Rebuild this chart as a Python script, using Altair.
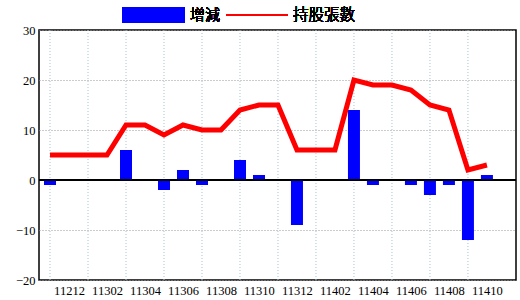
import altair as alt
import pandas as pd

months = ["11211", "11212", "11301", "11302", "11303", "11304", "11305", "11306",
          "11307", "11308", "11309", "11310", "11311", "11312", "11401", "11402",
          "11403", "11404", "11405", "11406", "11407", "11408", "11409", "11410"]
change = [-1, 0, 0, 0, 6, 0, -2, 2, -1, 0, 4, 1, 0, -9, 0, 0, 14, -1, 0, -1, -3, -1, -12, 1]
holding = [5, 5, 5, 5, 11, 11, 9, 11, 10, 10, 14, 15, 15, 6, 6, 6, 20, 19, 19, 18, 15, 14, 2, 3]
y_ticks = [-20, -10, 0, 10, 20, 30]
label_idx = list(range(1, 24, 2))
grid_idx = list(range(0, 24, 2))

df = pd.DataFrame({"idx": list(range(len(months))), "month": months,
                   "change": change, "holding": holding})
grid_df = pd.DataFrame({"g": grid_idx})

label_arr = "[" + ",".join("'%s'" % m for m in months) + "]"

xscale = alt.Scale(domain=[-0.58, 24.53], nice=False, zero=False, padding=0)
yscale = alt.Scale(domain=[-20, 30], nice=False, padding=0)

x_enc = alt.X("idx:Q", scale=xscale, title=None,
              axis=alt.Axis(values=label_idx, labelExpr=label_arr + "[datum.value]",
                            grid=False, ticks=False, domain=False, labelFont="Liberation Serif",
                            labelFontSize=12.5, labelColor="black", labelPadding=4))
y_axis = alt.Axis(values=y_ticks, grid=True, gridColor="#999999", gridDash=[1, 2],
                  ticks=False, domain=False, labelFont="Liberation Serif", labelFontSize=12.5,
                  labelColor="black", labelPadding=4)

vgrid = alt.Chart(grid_df).mark_rule(color="#a8c4d4", strokeDash=[1, 2], strokeWidth=1).encode(
    x=alt.X("g:Q", scale=xscale)
)

bars = alt.Chart(df).mark_bar(size=12, color="#0000ff").encode(
    x=x_enc,
    y=alt.Y("change:Q", scale=yscale, title=None, axis=y_axis, stack=None),
)

zero = alt.Chart(df).mark_rule(color="black", strokeWidth=1.5).encode(y=alt.datum(0))

line = alt.Chart(df).mark_line(color="#ff0000", strokeWidth=5).encode(
    x=alt.X("idx:Q", scale=xscale),
    y=alt.Y("holding:Q", scale=yscale),
)

leg_rect = alt.Chart(df).mark_rect(color="#0000ff").encode(
    x=alt.value(83), x2=alt.value(146), y=alt.value(-23), y2=alt.value(-7))
leg_rule = alt.Chart(df).mark_rule(color="#ff0000", strokeWidth=1.5).encode(
    x=alt.value(187), x2=alt.value(249), y=alt.value(-15))
leg_t1 = alt.Chart(df).mark_text(text="增減", align="left", baseline="middle", fontSize=15,
                                 font="Noto Sans CJK TC", fontWeight=300, color="black").encode(
    x=alt.value(151), y=alt.value(-15))
leg_t2 = alt.Chart(df).mark_text(text="持股張數", align="left", baseline="middle", fontSize=15.5,
                                 font="Noto Sans CJK TC", fontWeight=300, color="black").encode(
    x=alt.value(254), y=alt.value(-15))

chart = alt.layer(vgrid, bars, zero, line, leg_rect, leg_rule, leg_t1, leg_t2).properties(
    width=477, height=250,
    autosize=alt.AutoSizeParams(type="none"),
    padding={"left": 39, "top": 30, "right": 4, "bottom": 20},
    background="white",
).configure_view(stroke="black", strokeWidth=1.5)

chart.save("out.html", embed_options={"renderer": "svg", "actions": False})
